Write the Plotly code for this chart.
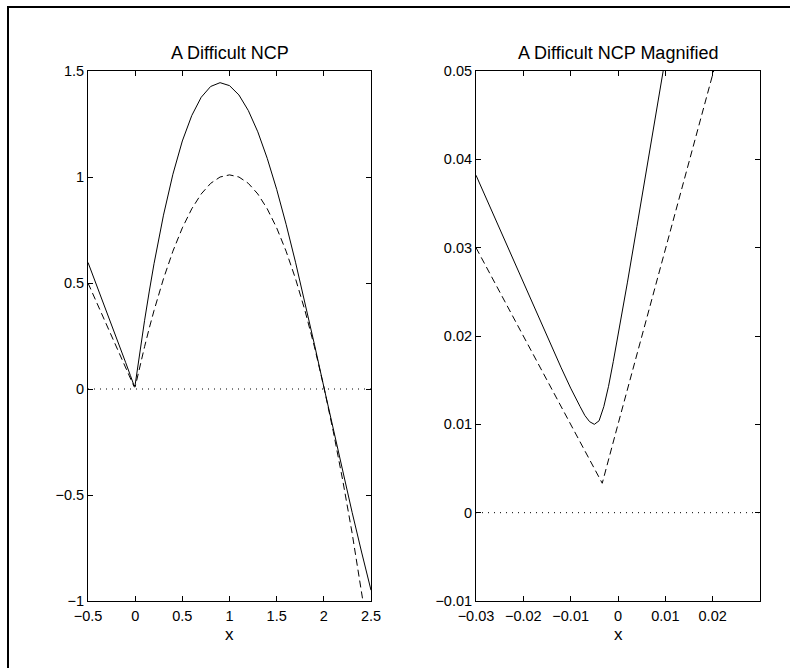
import plotly.graph_objects as go

# ---------------- data ----------------
# Left panel: "A Difficult NCP"
x_left = [-0.5, -0.4, -0.3, -0.2, -0.1, -0.05, -0.02, -0.01, 0.0, 0.01, 0.02, 0.05,
          0.1, 0.15, 0.2, 0.3, 0.4, 0.5, 0.6, 0.7, 0.8, 0.9, 1.0, 1.1, 1.2, 1.3,
          1.4, 1.5, 1.6, 1.7, 1.8, 1.9, 2.0, 2.1, 2.2, 2.3, 2.4, 2.5]
solid_left = [0.597, 0.481, 0.363, 0.244, 0.124, 0.063, 0.026, 0.014, 0.020, 0.051, 0.083, 0.176,
              0.324, 0.462, 0.591, 0.820, 1.013, 1.170, 1.290, 1.376, 1.427, 1.445, 1.431, 1.387,
              1.313, 1.213, 1.088, 0.942, 0.777, 0.598, 0.408, 0.211, 0.010, -0.191, -0.388,
              -0.582, -0.769, -0.949]
dashed_left = [0.5, 0.4, 0.3, 0.2, 0.1, 0.05, 0.02, 0.01, 0.01, 0.030, 0.050, 0.108,
               0.20, 0.288, 0.37, 0.52, 0.65, 0.76, 0.85, 0.92, 0.97, 1.00, 1.01, 1.00,
               0.97, 0.92, 0.85, 0.76, 0.65, 0.52, 0.37, 0.20, 0.01, -0.20, -0.43,
               -0.68, -0.95, -1.24]

# Right panel: "A Difficult NCP Magnified"
x_right_solid = [-0.03, -0.025, -0.02, -0.015, -0.012, -0.01, -0.009, -0.008, -0.007,
                 -0.006, -0.005, -0.004, -0.003, -0.002, -0.001, 0.0, 0.002, 0.004,
                 0.006, 0.008, 0.01, 0.012]
solid_right = [0.0382, 0.0321, 0.0260, 0.0200, 0.0164, 0.0141, 0.0130, 0.0120, 0.0110,
               0.0103, 0.0100, 0.0104, 0.0120, 0.0143, 0.0171, 0.0200, 0.0261, 0.0324,
               0.0387, 0.0451, 0.0514, 0.0578]
x_right_dashed = [-0.03, -0.02, -0.01, -0.00333, 0.0, 0.01, 0.02, 0.03]
dashed_right = [0.030, 0.020, 0.010, 0.00333, 0.010, 0.0299, 0.0496, 0.0691]

# axis ranges and tick labels
xrange_left = [-0.5, 2.5]
yrange_left = [-1, 1.5]
xticks_left = [-0.5, 0, 0.5, 1, 1.5, 2, 2.5]
xticklabels_left = ["\u22120.5", "0", "0.5", "1", "1.5", "2", "2.5"]
yticks_left = [-1, -0.5, 0, 0.5, 1, 1.5]
yticklabels_left = ["\u22121", "\u22120.5", "0", "0.5", "1", "1.5"]

xrange_right = [-0.03, 0.03]
yrange_right = [-0.01, 0.05]
xticks_right = [-0.03, -0.02, -0.01, 0, 0.01, 0.02]
xticklabels_right = ["\u22120.03", "\u22120.02", "\u22120.01", "0", "0.01", "0.02"]
yticks_right = [-0.01, 0, 0.01, 0.02, 0.03, 0.04, 0.05]
yticklabels_right = ["\u22120.01", "0", "0.01", "0.02", "0.03", "0.04", "0.05"]

titles = ["A Difficult NCP", "A Difficult NCP Magnified"]
xlabel = "x"

# ---------------- figure ----------------
W, H = 790, 668
FONT = "Liberation Sans, Arial, Helvetica, sans-serif"

fig = go.Figure()

line_solid = dict(color="black", width=1)
line_dashed = dict(color="black", width=1, dash="7px,4px")
line_dot = dict(color="black", width=1, dash="1px,5px")

fig.add_trace(go.Scatter(x=x_left, y=solid_left, mode="lines", line=line_solid,
                         xaxis="x", yaxis="y", showlegend=False))
fig.add_trace(go.Scatter(x=x_left, y=dashed_left, mode="lines", line=line_dashed,
                         xaxis="x", yaxis="y", showlegend=False))
fig.add_trace(go.Scatter(x=xrange_left, y=[0, 0], mode="lines", line=line_dot,
                         xaxis="x", yaxis="y", showlegend=False))

fig.add_trace(go.Scatter(x=x_right_solid, y=solid_right, mode="lines", line=line_solid,
                         xaxis="x2", yaxis="y2", showlegend=False))
fig.add_trace(go.Scatter(x=x_right_dashed, y=dashed_right, mode="lines", line=line_dashed,
                         xaxis="x2", yaxis="y2", showlegend=False))
fig.add_trace(go.Scatter(x=xrange_right, y=[0, 0], mode="lines", line=line_dot,
                         xaxis="x2", yaxis="y2", showlegend=False))

L0, L1 = 88 / W, 371 / W
R0, R1 = 476 / W, 760 / W
B, T = (H - 601) / H, (H - 71) / H

def axis_common(**kw):
    d = dict(showline=True, linecolor="black", linewidth=1, mirror="ticks",
             ticks="inside", ticklen=5, tickwidth=1, tickcolor="black",
             showgrid=False, zeroline=False, automargin=False,
             tickfont=dict(family=FONT, size=14.5, color="black"))
    d.update(kw)
    return d

fig.update_layout(
    width=W, height=H,
    margin=dict(l=0, r=0, t=0, b=0),
    paper_bgcolor="white", plot_bgcolor="white",
    font=dict(family=FONT, color="black"),
    xaxis=axis_common(domain=[L0, L1], range=xrange_left, tickmode="array",
                      tickvals=xticks_left, ticktext=xticklabels_left, anchor="y",
                      ticklabelstandoff=2),
    yaxis=axis_common(domain=[B, T], range=yrange_left, tickmode="array",
                      tickvals=yticks_left, ticktext=yticklabels_left, anchor="x"),
    xaxis2=axis_common(domain=[R0, R1], range=xrange_right, tickmode="array",
                       tickvals=xticks_right, ticktext=xticklabels_right, anchor="y2",
                       ticklabelstandoff=2),
    yaxis2=axis_common(domain=[B, T], range=yrange_right, tickmode="array",
                       tickvals=yticks_right, ticktext=yticklabels_right, anchor="x2"),
    shapes=[
        dict(type="line", xref="paper", yref="paper", x0=7 / W, x1=1, y0=1 - 7 / H, y1=1 - 7 / H,
             line=dict(color="black", width=2)),
        dict(type="line", xref="paper", yref="paper", x0=8 / W, x1=8 / W, y0=0, y1=1 - 7 / H,
             line=dict(color="black", width=2)),
    ],
)

title_y = 1 - 53 / H
label_y = 1 - 634 / H
for cx, t in zip([(L0 + L1) / 2, (R0 + R1) / 2], titles):
    fig.add_annotation(x=cx, y=title_y, xref="paper", yref="paper", text=t, showarrow=False,
                       xanchor="center", yanchor="middle",
                       font=dict(family=FONT, size=18, color="black"))
    fig.add_annotation(x=cx, y=label_y, xref="paper", yref="paper", text=xlabel, showarrow=False,
                       xanchor="center", yanchor="middle",
                       font=dict(family=FONT, size=17, color="black"))

fig.write_html(
    "out.html",
    config={"displayModeBar": False},
    post_script="document.body.style.margin='0';document.body.style.overflow='hidden';",
)
